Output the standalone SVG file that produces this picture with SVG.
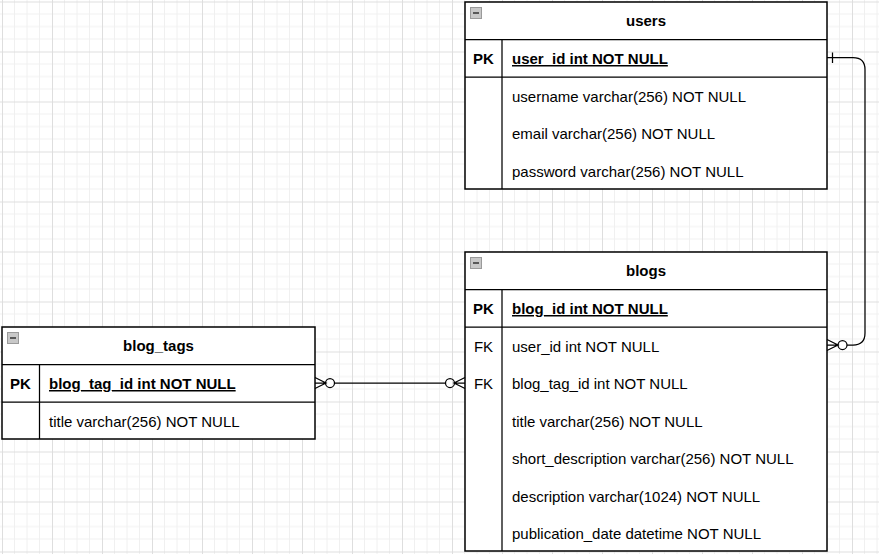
<svg xmlns="http://www.w3.org/2000/svg" width="879" height="554" viewBox="0 0 879 554">
<defs>
<pattern id="grid" patternUnits="userSpaceOnUse" x="2" y="1.5" width="50" height="50">
<path d="M12.5 0V50M25 0V50M37.5 0V50M0 12.5H50M0 25H50M0 37.5H50" stroke="#f0f0f0" stroke-width="1" fill="none"/>
<path d="M0.5 0V50M0 0.5H50" stroke="#dedede" stroke-width="1" fill="none"/>
</pattern>
<g id="collapse">
<rect x="0.5" y="0.5" width="11" height="11" fill="#c8c8c8" stroke="#9a9a9a"/>
<path d="M3 6H9" stroke="#333" stroke-width="1.5"/>
</g>
</defs>
<style>
.t{fill:#fff;stroke:#000;stroke-width:1.5}
.ln{stroke:#000;stroke-width:1.25;fill:none}
.tx{font-family:"Liberation Sans",Arial,sans-serif;font-size:15px;fill:#000}
.h{font-weight:bold;text-anchor:middle}
.k{text-anchor:middle}
.b{font-weight:bold}
.u{text-decoration:underline}
.c{stroke:#000;stroke-width:1.25;fill:none}
</style>
<rect width="879" height="554" fill="#fff"/>
<rect width="879" height="554" fill="url(#grid)"/>

<g id="users">
<rect class="t" x="465" y="2" width="362" height="187"/>
<path class="ln" d="M465 39.5H827M465 77H827M502 39.5V189"/>
<use href="#collapse" x="470" y="7"/>
<text class="tx h" x="646" y="26">users</text>
<text class="tx b k" x="483.5" y="64">PK</text>
<text class="tx b u" x="512" y="64">user_id int NOT NULL</text>
<text class="tx" x="512" y="101.5">username varchar(256) NOT NULL</text>
<text class="tx" x="512" y="139">email varchar(256) NOT NULL</text>
<text class="tx" x="512" y="176.5">password varchar(256) NOT NULL</text>
</g>

<g id="blogs">
<rect class="t" x="465" y="252" width="362" height="299"/>
<path class="ln" d="M465 289.5H827M465 327H827M502 289.5V551"/>
<use href="#collapse" x="470" y="257"/>
<text class="tx h" x="646" y="276">blogs</text>
<text class="tx b k" x="483.5" y="314">PK</text>
<text class="tx b u" x="512" y="314">blog_id int NOT NULL</text>
<text class="tx k" x="483.5" y="351.5">FK</text>
<text class="tx" x="512" y="351.5">user_id int NOT NULL</text>
<text class="tx k" x="483.5" y="389">FK</text>
<text class="tx" x="512" y="389">blog_tag_id int NOT NULL</text>
<text class="tx" x="512" y="426.5">title varchar(256) NOT NULL</text>
<text class="tx" x="512" y="464">short_description varchar(256) NOT NULL</text>
<text class="tx" x="512" y="501.5">description varchar(1024) NOT NULL</text>
<text class="tx" x="512" y="539">publication_date datetime NOT NULL</text>
</g>

<g id="blog_tags">
<rect class="t" x="2" y="327" width="313" height="112"/>
<path class="ln" d="M2 364.5H315M2 402H315M39.5 364.5V439"/>
<use href="#collapse" x="7" y="332"/>
<text class="tx h" x="158.5" y="351">blog_tags</text>
<text class="tx b k" x="20.5" y="389">PK</text>
<text class="tx b u" x="49" y="389">blog_tag_id int NOT NULL</text>
<text class="tx" x="49" y="426.5">title varchar(256) NOT NULL</text>
</g>

<g id="connectors">
<path class="c" d="M827 57.5H853Q865 57.5 865 69.5V333Q865 345 853 345H847"/>
<path class="c" d="M832.5 52.5V63"/>
<circle class="c" cx="842.5" cy="345" r="4.5" fill="#fff"/>
<path class="c" d="M827 339.5L838 345L827 350.5M827 345H838"/>

<path class="c" d="M334.5 383H445.5"/>
<circle class="c" cx="330" cy="383" r="4.5" fill="#fff"/>
<path class="c" d="M315 377.5L326 383L315 388.5M315 383H325.5"/>
<circle class="c" cx="450" cy="383" r="4.5" fill="#fff"/>
<path class="c" d="M465 377.5L454 383L465 388.5M465 383H454.5"/>
</g>
</svg>
